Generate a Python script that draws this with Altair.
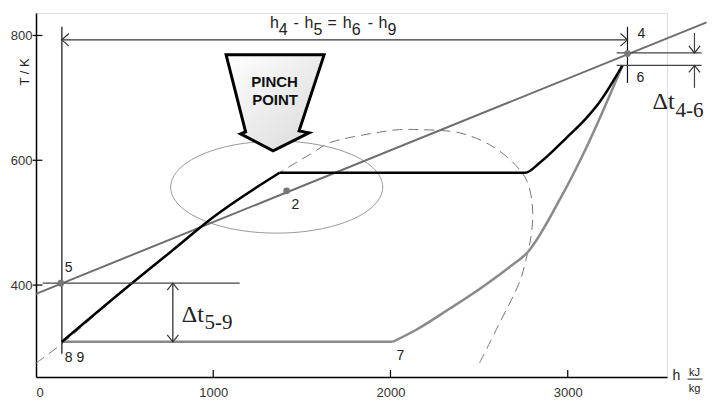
import altair as alt
import pandas as pd

# ---------------- data ----------------
H_DOMAIN = [0, 3560]
T_DOMAIN = [252.7, 836.0]
X_TICKS = [0, 1000, 2000, 3000]
Y_TICKS = [400, 600, 800]

# flue gas cooling line (5 -> 4)
gas_h = [0, 3783]
gas_T = [386, 821]

# black curve: high-pressure water heating 9 -> pinch, then evaporation + superheat -> 6
hp_liq_h = [146, 546, 772, 992, 1374]
hp_liq_T = [309, 404, 456, 507, 580]
hp_vap_h = [1374, 2760, 2842, 2993, 3106, 3179, 3309]
hp_vap_T = [580, 580, 596, 636, 668, 693, 752]

# grey curve: 9 -> 7 (flat) and 7 -> 6
lp_flat_h = [146, 2012]
lp_flat_T = [309, 309]
lp_h = [2012, 2143, 2333, 2519, 2672, 2775, 2953, 3106, 3309]
lp_T = [309, 328, 362, 397, 429, 453, 536, 621, 752]

# saturation dome (dashed)
dome_h = [0, 146, 546, 992, 1374, 1419, 1561, 1657, 1938, 2051, 2181, 2390,
          2559, 2689, 2768, 2801, 2796, 2773, 2728, 2615, 2502]
dome_T = [275, 306, 404, 507, 580, 588, 612, 628, 645, 649, 649, 644,
          625, 597, 568, 525, 484, 451, 405, 339, 275]

# thin construction lines
rule_h1 = [146, 3337, 146, 38, 3276, 3276, 772, 3715, 3715]
rule_T1 = [814, 814, 793, 403, 772, 752, 403, 804, 716]
rule_h2 = [146, 3337, 3337, 1149, 3755, 3755, 772, 3715, 3715]
rule_T2 = [290, 724, 793, 403, 772, 752, 309, 772, 752]
rule_col = ["#111", "#111", "#333", "#444", "#444", "#444", "#222", "#444", "#444"]

# arrow heads
head_h = [146, 3337, 772, 772, 3715, 3715]
head_T = [793, 793, 403, 309, 772, 752]
head_dir = ["left", "right", "up", "down", "down", "up"]

# state points
dot_h = [140, 1414, 3337]
dot_T = [403, 551, 771]

# sans labels (left aligned, alphabetic baseline)
lab_text = ["4", "6", "5", "8 9", "7", "2", "h",
            "h", "4", "-", "h", "5", "=", "h", "6", "-", "h", "9"]
lab_h = [3394, 3388, 162, 162, 2034, 1442, 3591,
         1320, 1369, 1453, 1515, 1566, 1645, 1730, 1781, 1871, 1933, 1983]
lab_T = [796, 725.5, 421, 277, 280, 522, 247.8,
         812, 801, 812, 812, 801, 812, 812, 801, 812, 812, 801]
lab_size = [14, 14, 14, 14, 14, 14, 14,
            16, 16, 16, 16, 16, 16, 16, 16, 16, 16, 16]

# unit fraction kJ / kg
unit_text = ["kJ", "kg"]
unit_h = [3715, 3715]
unit_T = [254, 228.5]
frac_h = [3676, 3760]
frac_T = [249.3, 249.3]

# serif delta labels
dl_text = ["Δt", "5-9", "Δt", "4-6"]
dl_h = [822, 951, 3478, 3608]
dl_T = [341, 330, 682, 669]
dl_size = [24, 21, 24, 21]

# pinch point arrow + text
pinch_h = [1349]
pinch_T = [692]
pinch_text = ["PINCH", "POINT"]
pinch_text_h = [1346, 1349]
pinch_text_T = [717.5, 688.6]

# ellipse around pinch zone
ell_h = [1358]
ell_T = [557]

# ---------------- chart ----------------
xs = alt.Scale(domain=H_DOMAIN, nice=False, zero=False)
ys = alt.Scale(domain=T_DOMAIN, nice=False, zero=False)
xaxis = alt.Axis(values=X_TICKS, ticks=False, grid=False, title=None, domainColor="black",
                 domainWidth=1.5, labelFontSize=13, labelColor="#333", labelPadding=9,
                 labelFont="Liberation Sans", format="d")
yaxis = alt.Axis(values=Y_TICKS, ticks=False, grid=False, title=None, domainColor="black",
                 domainWidth=1.5, labelFontSize=13, labelColor="#333", labelPadding=4,
                 labelFont="Liberation Sans", format="d")


def X(f="h"):
    return alt.X(f"{f}:Q", scale=xs, axis=xaxis)


def Y(f="T"):
    return alt.Y(f"{f}:Q", scale=ys, axis=yaxis)


def line_df(hs, ts):
    return pd.DataFrame({"h": hs, "T": ts, "i": list(range(len(hs)))})


dome = alt.Chart(line_df(dome_h, dome_T)).mark_line(
    color="#777", strokeWidth=1, strokeDash=[10, 6], interpolate="catmull-rom"
).encode(x=X(), y=Y(), order="i:Q")

ellipse = alt.Chart(pd.DataFrame({"h": ell_h, "T": ell_T})).mark_point(
    shape="M -1 0 A 1 0.434 0 1 1 1 0 A 1 0.434 0 1 1 -1 0 Z",
    size=44944, filled=False, stroke="#999", strokeWidth=1, opacity=1
).encode(x=X(), y=Y())

gas = alt.Chart(line_df(gas_h, gas_T)).mark_line(
    color="#6e6e6e", strokeWidth=2
).encode(x=X(), y=Y(), order="i:Q")

lp_flat = alt.Chart(line_df(lp_flat_h, lp_flat_T)).mark_line(
    color="#8a8a8a", strokeWidth=2.5
).encode(x=X(), y=Y(), order="i:Q")

lp = alt.Chart(line_df(lp_h, lp_T)).mark_line(
    color="#8a8a8a", strokeWidth=2.5, interpolate="monotone"
).encode(x=X(), y=Y(), order="i:Q")

hp_liq = alt.Chart(line_df(hp_liq_h, hp_liq_T)).mark_line(
    color="black", strokeWidth=2.5, interpolate="monotone"
).encode(x=X(), y=Y(), order="i:Q")

hp_vap = alt.Chart(line_df(hp_vap_h, hp_vap_T)).mark_line(
    color="black", strokeWidth=2.5, interpolate="monotone"
).encode(x=X(), y=Y(), order="i:Q")

rules_df = pd.DataFrame({"h": rule_h1, "T": rule_T1, "h2": rule_h2, "T2": rule_T2,
                         "c": rule_col})
rules = alt.Chart(rules_df).mark_rule(strokeWidth=1.2).encode(
    x=X(), y=Y(), x2="h2:Q", y2="T2:Q", color=alt.Color("c:N", scale=None)
)

# axis ticks (inward on x, crossing on y)
xt_df = pd.DataFrame({"h": X_TICKS[1:], "T": [T_DOMAIN[0]] * 3, "T2": [T_DOMAIN[0] + 11.2] * 3})
xticks = alt.Chart(xt_df).mark_rule(color="black", strokeWidth=1.2).encode(x=X(), y=Y(), y2="T2:Q")
yt_df = pd.DataFrame({"h": [-19] * 3, "h2": [36] * 3, "T": Y_TICKS})
yticks = alt.Chart(yt_df).mark_rule(color="black", strokeWidth=1.2).encode(x=X(), x2="h2:Q", y=Y())

head_paths = {
    "left": "M 1 -0.9 L 0 0 L 1 0.9",
    "right": "M -1 -0.9 L 0 0 L -1 0.9",
    "up": "M -0.8 1 L 0 0 L 0.8 1",
    "down": "M -0.8 -1 L 0 0 L 0.8 -1",
}
heads = alt.Chart(pd.DataFrame({"h": head_h, "T": head_T, "d": head_dir})).mark_point(
    filled=False, size=196, strokeWidth=1.2, opacity=1, color="#333"
).encode(
    x=X(), y=Y(),
    shape=alt.Shape("d:N", scale=alt.Scale(domain=list(head_paths.keys()),
                                           range=list(head_paths.values())), legend=None),
)

dots = alt.Chart(pd.DataFrame({"h": dot_h, "T": dot_T})).mark_circle(
    size=45, color="#777", opacity=1
).encode(x=X(), y=Y())

labels = alt.Chart(pd.DataFrame({"h": lab_h, "T": lab_T, "t": lab_text, "s": lab_size})).mark_text(
    align="left", baseline="alphabetic", font="Liberation Sans", color="#222"
).encode(x=X(), y=Y(), text="t:N", size=alt.Size("s:Q", scale=None))

units = alt.Chart(pd.DataFrame({"h": unit_h, "T": unit_T, "t": unit_text})).mark_text(
    align="center", baseline="alphabetic", font="Liberation Sans", color="#222", fontSize=11
).encode(x=X(), y=Y(), text="t:N")

frac = alt.Chart(line_df(frac_h, frac_T)).mark_line(color="#222", strokeWidth=1).encode(
    x=X(), y=Y(), order="i:Q")

tk = alt.Chart(pd.DataFrame({"h": [-64], "T": [741.5], "t": ["T / K"]})).mark_text(
    align="center", baseline="middle", font="Liberation Sans", color="#222", fontSize=13, angle=270
).encode(x=X(), y=Y(), text="t:N")

deltas = alt.Chart(pd.DataFrame({"h": dl_h, "T": dl_T, "t": dl_text, "s": dl_size})).mark_text(
    align="left", baseline="alphabetic", font="Liberation Serif", color="#222"
).encode(x=X(), y=Y(), text="t:N", size=alt.Size("s:Q", scale=None))

arrow_path = ("M -0.98 -0.96 L 0.98 -0.96 L 0.48 0.56 L 0.68 0.6 L -0.04 0.96 "
              "L -0.69 0.62 L -0.59 0.58 Z")
pinch = alt.Chart(pd.DataFrame({"h": pinch_h, "T": pinch_T})).mark_point(
    shape=arrow_path, size=10000, filled=True, opacity=1,
    fill=alt.Gradient(gradient="linear",
                      stops=[alt.GradientStop(color="#ffffff", offset=0),
                             alt.GradientStop(color="#d9d9d9", offset=1)],
                      x1=0, x2=1, y1=0, y2=1),
    stroke="black", strokeWidth=3, strokeJoin="miter"
).encode(x=X(), y=Y())

pinch_txt = alt.Chart(pd.DataFrame({"h": pinch_text_h, "T": pinch_text_T, "t": pinch_text})).mark_text(
    align="center", baseline="alphabetic", font="Liberation Sans", fontWeight="bold",
    fontSize=15, color="#111"
).encode(x=X(), y=Y(), text="t:N")

chart = alt.layer(
    dome, ellipse, gas, lp_flat, lp, hp_liq, hp_vap, rules, xticks, yticks, heads, dots,
    labels, units, frac, tk, deltas, pinch, pinch_txt
).properties(
    width=631, height=364,
    autosize=alt.AutoSizeParams(type="none"),
    padding={"left": 28, "top": 5, "right": 46, "bottom": 25},
).configure_view(stroke=None).configure(background="white")

chart.save("out.html", embed_options={"renderer": "svg", "actions": False})
